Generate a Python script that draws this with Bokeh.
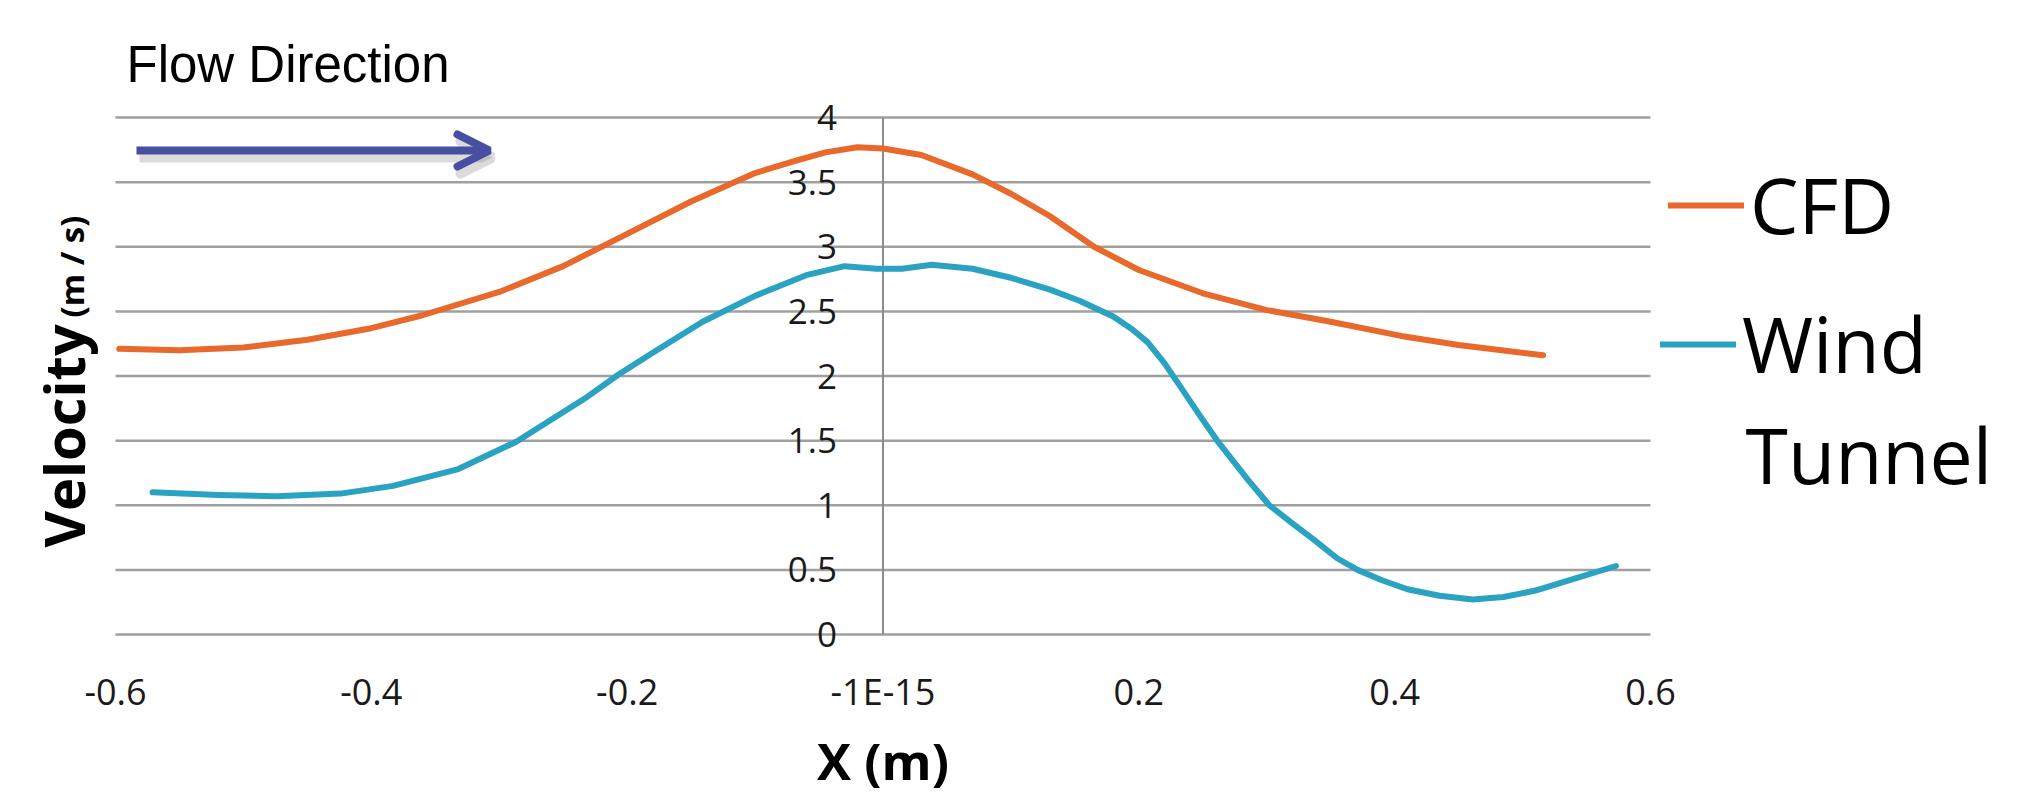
import math
from bokeh.plotting import figure
from bokeh.models import (Range1d, FixedTicker, Arrow, OpenHead, Label,
                          Legend, LegendItem)
from bokeh.embed import file_html
from bokeh.resources import INLINE

# ---------------- data ----------------
x_ticks = [-0.6, -0.4, -0.2, 0.0, 0.2, 0.4, 0.6]
x_tick_labels = ["-0.6", "-0.4", "-0.2", "-1E-15", "0.2", "0.4", "0.6"]
y_ticks = [0, 0.5, 1, 1.5, 2, 2.5, 3, 3.5, 4]
y_tick_labels = ["0", "0.5", "1", "1.5", "2", "2.5", "3", "3.5", "4"]

cfd_x = [-0.597, -0.55, -0.5, -0.45, -0.4, -0.36, -0.3, -0.25, -0.2, -0.15,
         -0.1, -0.07, -0.045, -0.02, 0.0, 0.03, 0.07, 0.1, 0.13, 0.165, 0.2,
         0.25, 0.3, 0.35, 0.405, 0.45, 0.516]
cfd_v = [2.21, 2.20, 2.22, 2.28, 2.37, 2.47, 2.65, 2.85, 3.10, 3.35,
         3.57, 3.66, 3.73, 3.77, 3.76, 3.71, 3.56, 3.41, 3.24, 3.00, 2.82,
         2.64, 2.51, 2.42, 2.31, 2.24, 2.16]

wt_x = [-0.571, -0.52, -0.474, -0.424, -0.383, -0.332, -0.287, -0.231, -0.207,
        -0.18, -0.141, -0.1, -0.06, -0.03, -0.005, 0.015, 0.038, 0.07, 0.1,
        0.13, 0.154, 0.18, 0.195, 0.207, 0.22, 0.233, 0.248, 0.262, 0.285,
        0.302, 0.32, 0.336, 0.355, 0.371, 0.39, 0.41, 0.435, 0.461, 0.485,
        0.51, 0.54, 0.573]
wt_v = [1.10, 1.08, 1.07, 1.09, 1.15, 1.28, 1.49, 1.84, 2.01,
        2.18, 2.42, 2.62, 2.78, 2.85, 2.83, 2.83, 2.86, 2.83, 2.76,
        2.67, 2.58, 2.46, 2.36, 2.26, 2.10, 1.91, 1.69, 1.49, 1.20,
        1.00, 0.86, 0.74, 0.59, 0.50, 0.42, 0.35, 0.30, 0.27, 0.29,
        0.34, 0.43, 0.53]

series_names = ["CFD", "Wind", "Tunnel"]

CFD_COLOR = "#E8692B"
WT_COLOR = "#2AA3C2"
GRID = "#a0a0a0"
AXIS = "#8c8c8c"

# ---------------- layout (page pixels -> data) ----------------
W, H = 2036, 795
X0_PX, X_SCALE = 882.5, 1279.2     # pixel of x = 0, pixels per unit
Y0_PX, Y_SCALE = 634.0, 129.25     # pixel of v = 0, pixels per unit


def dx(px):
    return (px - X0_PX) / X_SCALE


def dy(py):
    return (Y0_PX - py) / Y_SCALE


p = figure(width=W, height=H, output_backend="svg", toolbar_location=None,
           title=None,
           x_range=Range1d(dx(0), dx(W)), y_range=Range1d(dy(H), dy(0)),
           min_border=0)
p.outline_line_color = None
p.background_fill_color = "white"
p.border_fill_color = "white"

# x axis (crossing at v = 0)
xa = p.xaxis[0]
xa.fixed_location = 0
xa.ticker = FixedTicker(ticks=x_ticks)
xa.major_label_overrides = dict(zip(x_ticks, x_tick_labels))
xa.axis_line_color = None
xa.major_tick_line_color = None
xa.minor_tick_line_color = None
xa.major_label_standoff = 26
xa.major_label_text_font = "Open Sans"
xa.major_label_text_font_size = "36px"
xa.major_label_text_color = "#1a1a1a"

# y axis (crossing at x = 0)
ya = p.yaxis[0]
ya.fixed_location = 0
ya.ticker = FixedTicker(ticks=y_ticks)
ya.major_label_overrides = dict(zip(y_ticks, y_tick_labels))
ya.axis_line_color = None
ya.major_tick_line_color = None
ya.minor_tick_line_color = None
ya.major_label_standoff = 40
ya.major_label_text_font = "Open Sans"
ya.major_label_text_font_size = "35px"
ya.major_label_text_color = "#1a1a1a"

p.xgrid.visible = False
p.ygrid.visible = False

# horizontal gridlines limited to the x extent, and the vertical axis line
p.segment(x0=[x_ticks[0]] * len(y_ticks), x1=[x_ticks[-1]] * len(y_ticks),
          y0=y_ticks, y1=y_ticks, line_color=GRID, line_width=2.5)
p.segment(x0=[0], x1=[0], y0=[y_ticks[0]], y1=[y_ticks[-1]],
          line_color=AXIS, line_width=2)

# series
r_cfd = p.line(cfd_x, cfd_v, line_color=CFD_COLOR, line_width=6,
               line_join="round", line_cap="round")
r_wt = p.line(wt_x, wt_v, line_color=WT_COLOR, line_width=6,
              line_join="round", line_cap="round")

# flow direction caption and arrow (with a soft shadow)
p.add_layout(Label(x=dx(126), y=dy(64), text="Flow Direction",
                   text_font="Liberation Sans", text_font_size="51px",
                   text_color="#000000", text_align="left",
                   text_baseline="alphabetic"))
shadow = Arrow(end=OpenHead(size=32, line_color="#888888", line_alpha=0.3,
                            line_width=10, line_cap="round"),
               x_start=dx(139), y_start=dy(157), x_end=dx(492), y_end=dy(157),
               line_color="#888888", line_alpha=0.3, line_width=10)
arrow = Arrow(end=OpenHead(size=32, line_color="#464FA0", line_width=8,
                           line_cap="round"),
              x_start=dx(136), y_start=dy(150), x_end=dx(489), y_end=dy(150),
              line_color="#464FA0", line_width=8)
p.add_layout(shadow)
p.add_layout(arrow)

# axis titles
p.add_layout(Label(x=dx(62), y=dy(547), text="Velocity", angle=math.pi / 2,
                   text_font="Open Sans", text_font_style="bold",
                   text_font_size="56px", text_color="#000000",
                   text_align="left", text_baseline="alphabetic"))
p.add_layout(Label(x=dx(71), y=dy(317), text="(m / s)", angle=math.pi / 2,
                   text_font="Open Sans", text_font_style="bold",
                   text_font_size="33px", text_color="#000000",
                   text_align="left", text_baseline="alphabetic"))
p.add_layout(Label(x=0, y=dy(759), text="X (m)",
                   text_font="Open Sans", text_font_style="bold",
                   text_font_size="51px", text_color="#000000",
                   text_align="center", text_baseline="alphabetic"))

# legend
common = dict(orientation="vertical", label_text_font="Open Sans",
              label_text_font_size="77px", label_text_color="#000000",
              glyph_width=76, label_standoff=6, padding=0, margin=0,
              spacing=0, border_line_color=None, background_fill_alpha=0)
leg1 = Legend(items=[LegendItem(label=series_names[0], renderers=[r_cfd])],
              location=(1668, H - 257), **common)
leg2 = Legend(items=[LegendItem(label=series_names[1], renderers=[r_wt])],
              location=(1660, H - 396), **common)
p.add_layout(leg1)
p.add_layout(leg2)
p.add_layout(Label(x=dx(1745), y=dy(454), text=series_names[2],
                   text_font="Open Sans", text_font_size="77px",
                   text_color="#000000", text_align="left",
                   text_baseline="alphabetic"))

open("out.html", "w").write(file_html(p, INLINE))
